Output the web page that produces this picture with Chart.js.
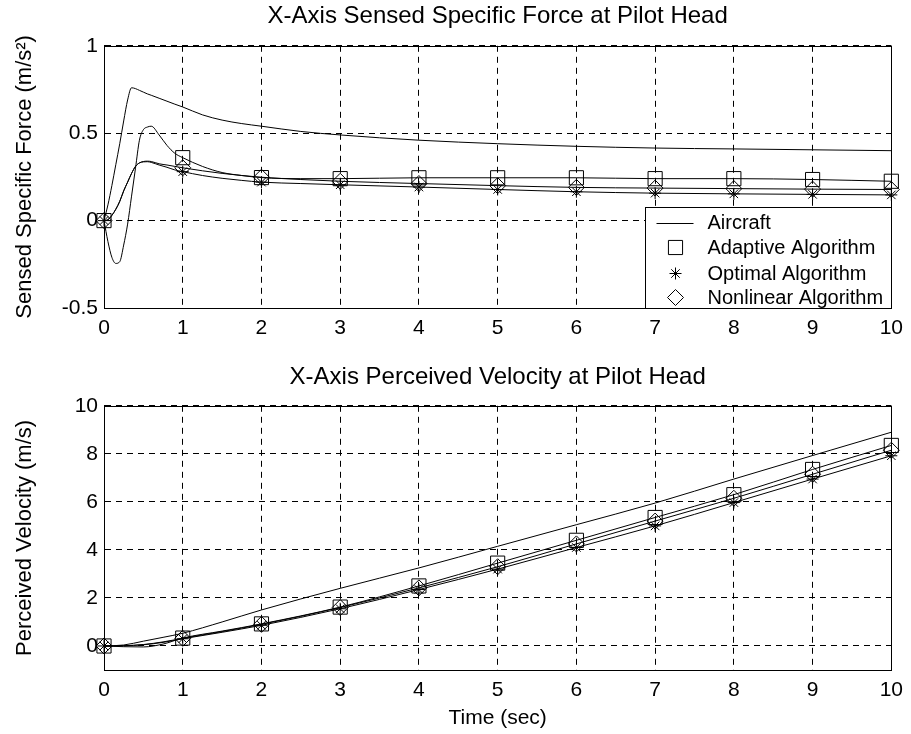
<!DOCTYPE html>
<html><head><meta charset="utf-8">
<script src="https://cdn.jsdelivr.net/npm/chart.js@4"></script>
<style>
html,body{margin:0;padding:0;background:#fff;}
#wrap{position:relative;width:911px;height:734px;}
#c1{position:absolute;left:0;top:0;}
#c2{position:absolute;left:0;top:360px;}
</style></head><body>
<div id="wrap"><canvas id="c1" width="911" height="360"></canvas><canvas id="c2" width="911" height="374"></canvas></div>
<script>
// ---------- data ----------
const seriesNames = ['Aircraft', 'Adaptive Algorithm', 'Optimal Algorithm', 'Nonlinear Algorithm'];
const xTicks = [0, 1, 2, 3, 4, 5, 6, 7, 8, 9, 10];
const xTickLabels = ['0', '1', '2', '3', '4', '5', '6', '7', '8', '9', '10'];
const forceTicks = [-0.5, 0, 0.5, 1];
const forceTickLabels = ['-0.5', '0', '0.5', '1'];
const velocityTicks = [0, 2, 4, 6, 8, 10];
const velocityTickLabels = ['0', '2', '4', '6', '8', '10'];

const forceTime = [0, 0.05, 0.1, 0.15, 0.2, 0.25, 0.3, 0.35, 0.4, 0.45, 0.5, 0.55, 0.6, 0.7, 0.8, 0.9, 1, 1.25, 1.5, 1.75, 2, 2.5, 3, 4, 5, 6, 7, 8, 9, 10];
const forceAircraft = [0, 0.09, 0.2, 0.32, 0.44, 0.57, 0.69, 0.76, 0.755, 0.745, 0.735, 0.725, 0.717, 0.70, 0.683, 0.666, 0.65, 0.605, 0.575, 0.555, 0.54, 0.51, 0.49, 0.46, 0.44, 0.425, 0.415, 0.41, 0.405, 0.40];
const forceAdaptive = [0, -0.12, -0.21, -0.245, -0.235, -0.14, -0.02, 0.14, 0.30, 0.46, 0.52, 0.535, 0.54, 0.49, 0.43, 0.385, 0.36, 0.31, 0.275, 0.258, 0.246, 0.24, 0.24, 0.245, 0.245, 0.245, 0.24, 0.24, 0.235, 0.225];
const forceOptimal = [0, 0.005, 0.03, 0.065, 0.11, 0.17, 0.22, 0.27, 0.31, 0.33, 0.336, 0.337, 0.333, 0.318, 0.305, 0.29, 0.28, 0.258, 0.242, 0.23, 0.22, 0.212, 0.205, 0.192, 0.178, 0.165, 0.157, 0.153, 0.15, 0.147];
const forceNonlinear = [0, 0.005, 0.03, 0.065, 0.11, 0.17, 0.22, 0.27, 0.31, 0.33, 0.338, 0.34, 0.338, 0.325, 0.318, 0.31, 0.302, 0.285, 0.27, 0.258, 0.248, 0.235, 0.225, 0.212, 0.20, 0.19, 0.186, 0.183, 0.18, 0.178];

const velocityTime = [0, 0.25, 0.5, 0.75, 1, 1.5, 2, 3, 4, 5, 6, 7, 8, 9, 10];
const velocityAircraft = [0, 0.04, 0.2, 0.36, 0.53, 1.0, 1.5, 2.4, 3.25, 4.15, 5.05, 5.95, 6.95, 7.93, 8.9];
const velocityAdaptive = [0, -0.03, -0.04, 0.08, 0.33, 0.62, 0.92, 1.62, 2.5, 3.45, 4.4, 5.35, 6.3, 7.35, 8.35];
const velocityOptimal = [0, 0.01, 0.05, 0.15, 0.30, 0.57, 0.86, 1.55, 2.35, 3.2, 4.1, 5.0, 5.97, 6.95, 7.92];
const velocityNonlinear = [0, 0.01, 0.06, 0.17, 0.32, 0.60, 0.90, 1.60, 2.42, 3.3, 4.25, 5.2, 6.15, 7.15, 8.15];

// ---------- styling ----------
const FONT = '"Liberation Sans", Arial, sans-serif';
const markerStyles = [false, 'rect', 'star', 'rectRot'];
const markerRadius = [0, 10, 6, 8];

function drawMarker(ctx, style, x, y, r) {
  ctx.beginPath();
  if (style === 'rect') {
    const s = r * Math.SQRT2;
    ctx.rect(x - s / 2, y - s / 2, s, s);
  } else if (style === 'rectRot') {
    ctx.moveTo(x - r, y); ctx.lineTo(x, y - r); ctx.lineTo(x + r, y); ctx.lineTo(x, y + r); ctx.closePath();
  } else if (style === 'star') {
    const d = r * Math.SQRT1_2;
    ctx.moveTo(x - r, y); ctx.lineTo(x + r, y);
    ctx.moveTo(x, y - r); ctx.lineTo(x, y + r);
    ctx.moveTo(x - d, y - d); ctx.lineTo(x + d, y + d);
    ctx.moveTo(x - d, y + d); ctx.lineTo(x + d, y - d);
  }
  ctx.stroke();
}

const frame = {
  id: 'frame',
  afterDatasetsDraw(chart) {
    const ca = chart.chartArea, ctx = chart.ctx;
    ctx.save();
    ctx.strokeStyle = '#000'; ctx.lineWidth = 1; ctx.setLineDash([]);
    const l = Math.round(ca.left) + 0.5, t = Math.round(ca.top) + 0.5;
    const r = Math.round(ca.right) + 0.5, b = Math.round(ca.bottom) + 0.5;
    ctx.strokeRect(l, t, r - l, b - t);
    ctx.restore();
  }
};

const boxLegend = {
  id: 'boxLegend',
  afterDraw(chart, args, opts) {
    if (!opts.show) return;
    const ctx = chart.ctx, ca = chart.chartArea;
    const w = 246, h = 101;
    const R = Math.round(ca.right) + 0.5, B = Math.round(ca.bottom) + 0.5;
    const L = R - w, T = B - h;
    ctx.save();
    ctx.setLineDash([]);
    ctx.fillStyle = '#fff'; ctx.strokeStyle = '#000'; ctx.lineWidth = 1;
    ctx.fillRect(L, T, w, h); ctx.strokeRect(L, T, w, h);
    const rows = [15, 40, 66, 90];
    chart.data.datasets.forEach((ds, i) => {
      const y = T + rows[i];
      ctx.strokeStyle = '#000';
      if (!markerStyles[i]) {
        ctx.beginPath(); ctx.moveTo(L + 11, Math.round(y) + 0.5); ctx.lineTo(L + 48, Math.round(y) + 0.5); ctx.stroke();
      } else {
        drawMarker(ctx, markerStyles[i], L + 30, y, markerRadius[i]);
      }
      ctx.fillStyle = '#000';
      ctx.font = '20px ' + FONT;
      ctx.textBaseline = 'middle';
      ctx.textAlign = 'left';
      ctx.fillText(ds.label, L + 62, y + 1);
    });
    ctx.restore();
  }
};

function buildDatasets(times, arrays) {
  return arrays.map((vals, i) => ({
    label: seriesNames[i],
    data: times.map((t, k) => ({ x: t, y: vals[k] })),
    borderColor: '#000',
    borderWidth: 1,
    cubicInterpolationMode: 'monotone',
    pointStyle: markerStyles[i] || 'circle',
    pointRadius: (c) => (markerStyles[i] && c.raw && Number.isInteger(c.raw.x)) ? markerRadius[i] : 0,
    pointHoverRadius: 0,
    pointBorderColor: '#000',
    pointBackgroundColor: 'rgba(0,0,0,0)',
    pointBorderWidth: 1,
    clip: false,
    fill: false
  }));
}

function makeChart(id, cfg) {
  return new Chart(document.getElementById(id), {
    type: 'line',
    data: { datasets: buildDatasets(cfg.times, cfg.series) },
    options: {
      responsive: false,
      animation: false,
      events: [],
      layout: { padding: { left: 0, right: 15, top: 0, bottom: 0 } },
      plugins: {
        legend: { display: false },
        tooltip: { enabled: false },
        title: {
          display: true, text: cfg.title, color: '#000', fullSize: false,
          font: { family: FONT, size: 24, weight: 'normal' },
          padding: cfg.titlePad
        },
        boxLegend: { show: cfg.legend }
      },
      scales: {
        x: {
          type: 'linear', min: 0, max: 10,
          afterBuildTicks: (s) => { s.ticks = xTicks.map(v => ({ value: v })); },
          afterFit: (s) => { s.height = cfg.xHeight; },
          ticks: {
            color: '#000', font: { family: FONT, size: 21 }, padding: 8,
            maxRotation: 0, autoSkip: false,
            callback: (v, i) => xTickLabels[i]
          },
          grid: { color: '#000', lineWidth: 1, drawTicks: false },
          border: { display: true, color: '#000', width: 1, dash: [6, 5] },
          title: cfg.xTitle ? {
            display: true, text: cfg.xTitle, color: '#000',
            font: { family: FONT, size: 21, weight: 'normal' }, padding: { top: 0, bottom: 3 }
          } : { display: false }
        },
        y: {
          type: 'linear', min: cfg.yMin, max: cfg.yMax,
          afterBuildTicks: (s) => { s.ticks = cfg.yTicks.map(v => ({ value: v })); },
          afterFit: (s) => { s.width = 104; },
          ticks: {
            color: '#000', font: { family: FONT, size: 21 }, padding: 6,
            autoSkip: false,
            callback: (v, i) => cfg.yTickLabels[i]
          },
          grid: { color: '#000', lineWidth: 1, drawTicks: false },
          border: { display: true, color: '#000', width: 1, dash: [6, 5] },
          title: {
            display: true, text: cfg.yTitle, color: '#000',
            font: { family: FONT, size: 22, weight: 'normal' }, padding: { top: 12, bottom: 0 }
          }
        }
      }
    },
    plugins: [frame, boxLegend]
  });
}

makeChart('c1', {
  title: 'X-Axis Sensed Specific Force at Pilot Head',
  titlePad: { top: 2, bottom: 15 },
  yTitle: 'Sensed Specific Force (m/s\u00B2)',
  xTitle: null,
  xHeight: 52,
  yMin: -0.5, yMax: 1,
  yTicks: forceTicks, yTickLabels: forceTickLabels,
  times: forceTime,
  series: [forceAircraft, forceAdaptive, forceOptimal, forceNonlinear],
  legend: true
});

makeChart('c2', {
  title: 'X-Axis Perceived Velocity at Pilot Head',
  titlePad: { top: 3, bottom: 14 },
  yTitle: 'Perceived Velocity (m/s)',
  xTitle: 'Time (sec)',
  xHeight: 64,
  yMin: -1, yMax: 10,
  yTicks: velocityTicks, yTickLabels: velocityTickLabels,
  times: velocityTime,
  series: [velocityAircraft, velocityAdaptive, velocityOptimal, velocityNonlinear],
  legend: false
});
</script>
</body></html>
